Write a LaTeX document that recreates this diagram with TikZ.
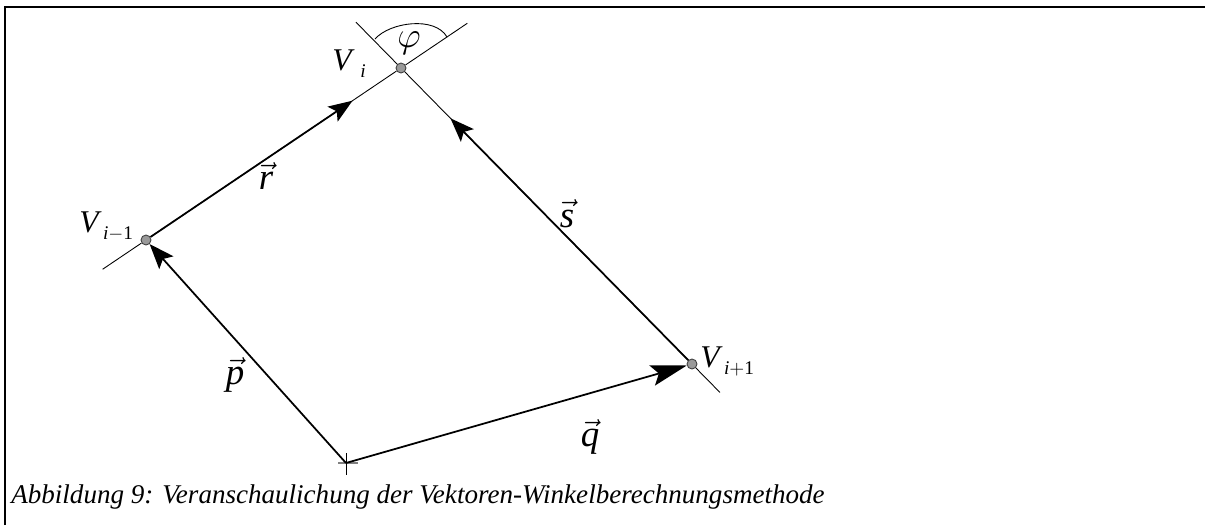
\documentclass[tikz,border=0pt]{standalone}
\usepackage{fontspec}
\setmainfont{Liberation Serif}
\usetikzlibrary{calc,arrows.meta}

\begin{document}
\begin{tikzpicture}[
    x=0.02cm, y=-0.02cm,
    vertex/.style={circle, draw=black!75, fill=black!40, line width=0.5pt, minimum size=0.2cm, inner sep=0},
    vlabel/.style={inner sep=0, anchor=base west, font=\fontsize{18}{22}\selectfont\itshape},
    veclabel/.style={inner sep=0, font=\fontsize{21}{24}\selectfont},
    aux/.style={line width=0.5pt},
    vector/.style={line width=1pt},
    caption/.style={inner sep=0, anchor=west, font=\fontsize{15.4}{18}\selectfont\itshape}
]
    \useasboundingbox (0,0) rectangle (1205,525);

    % Frame
    \draw[line width=1.1pt] (5,525) -- (5,7) -- (1205,7);

    % Points
    \coordinate (O) at (346,463);
    \node[vertex] (Vprev) at (146,240) {};
    \node[vertex] (Vi) at (401,68) {};
    \node[vertex] (Vnext) at (692,364) {};

    % Construction lines through V_i
    \coordinate (l1a) at ($(Vprev)!-0.17!(Vi)$);
    \coordinate (l1b) at ($(Vprev)!1.26!(Vi)$);
    \coordinate (l2a) at ($(Vnext)!-0.096!(Vi)$);
    \coordinate (l2b) at ($(Vnext)!1.155!(Vi)$);
    \draw[aux] (l1a) -- (Vprev) -- (Vi) -- (l1b);
    \draw[aux] (l2a) -- (Vnext) -- (Vi) -- (l2b);

    % Angle phi
    \draw[aux] (375,39) .. controls (390,22) and (435,16) .. (447,37);
    \node[inner sep=0, font=\fontsize{20}{24}\selectfont] (phi) at (409,43) {$\varphi$};

    % Origin
    \draw[gray, line width=1pt] ($(O)+(-8,0)$) -- ($(O)+(12,0)$);
    \draw[aux] ($(O)+(0,-10)$) -- ($(O)+(0,12)$);

    % Vectors
    \coordinate (rtip) at ($(Vprev)!0.81!(Vi)$);
    \coordinate (stip) at ($(Vnext)!0.83!(Vi)$);
    \draw[vector, -{Stealth[length=0.5cm, width=0.38cm, inset=0.1cm]}] (O) -- (Vprev);
    \draw[vector, -{Stealth[length=0.72cm, width=0.42cm, inset=0.14cm]}] (O) -- (Vnext);
    \draw[vector, -{Stealth[length=0.48cm, width=0.36cm, inset=0.1cm]}] (Vprev) -- (rtip);
    \draw[vector, -{Stealth[length=0.48cm, width=0.36cm, inset=0.1cm]}] (Vnext) -- (stip);

    % Vector labels
    \node[veclabel] (lr) at (266,176) {$\vec{\textit{r}}$};
    \node[veclabel] (ls) at (567,214) {$\vec{\textit{s}}$};
    \node[veclabel] (lp) at (235,375) {$\vec{\textit{p}}$};
    \node[veclabel] (lq) at (590,437) {$\vec{\textit{q}}$};

    % Vertex labels
    \node[vlabel] (tVi) at (332,70) {V\hspace{5pt}\raisebox{-4pt}{\fontsize{11}{13}\selectfont i}};
    \node[vlabel] (tVprev) at (79,232) {V\hspace{2.5pt}\raisebox{-4pt}{\fontsize{11}{13}\selectfont i\textup{$-$1}}};
    \node[vlabel] (tVnext) at (700,367) {V\hspace{2.5pt}\raisebox{-4pt}{\fontsize{11}{13}\selectfont i\textup{$+$1}}};

    % Caption
    \node[caption] (cap) at (11,497) {Abbildung 9: Veranschaulichung der Vektoren-Winkelberechnungsmethode};
\end{tikzpicture}
\end{document}
